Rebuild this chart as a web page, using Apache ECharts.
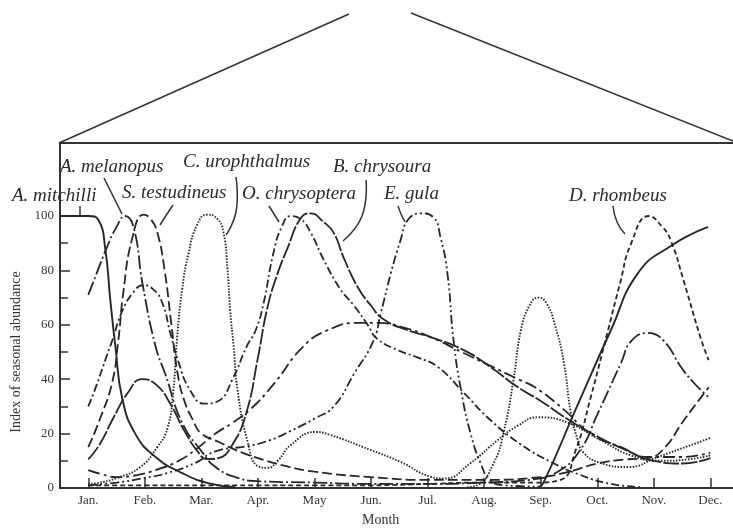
<!DOCTYPE html>
<html><head><meta charset="utf-8">
<script src="https://cdn.jsdelivr.net/npm/echarts@6/dist/echarts.min.js"></script>
<style>html,body{margin:0;padding:0;background:#fff}#c{width:733px;height:532px}</style>
</head><body><div id="c"></div>
<script>
const months = ['Jan.','Feb.','Mar.','Apr.','May','Jun.','Jul.','Aug.','Sep.','Oct.','Nov.','Dec.'];
const monthTicks = [1,2,3,4,5,6,7,8,9,10,11,12];
const yTicks = [0,20,40,60,80,100];

const mitchilli = [[0.5,100],[1.0,100],[1.18,98.5],[1.3,88],[1.39,69],[1.48,52],[1.6,33],[1.83,20],[2.19,11.4],[2.66,5.5],[3.12,1.8],[3.6,0.3],[6,null],[8.95,0],[9.05,2],[9.62,29],[10.24,58],[10.72,79],[11.3,89],[11.96,96]];
const melanopus = [[1,71],[1.15,79],[1.3,87],[1.5,96],[1.65,100],[1.8,96],[1.96,75],[2.19,52],[2.36,42],[2.66,24],[3.02,13],[3.25,7.7],[3.6,4],[4,2.5],[5,2],[6,1.5],[7,1.5],[8,2],[8.8,3],[9.3,6],[9.7,14],[10,27],[10.2,36],[10.42,46],[10.6,54],[10.89,57],[11.18,54],[11.48,44.5],[11.71,38.6],[11.96,33.5]];
const testudineus = [[1,15],[1.2,25],[1.42,38.6],[1.53,54],[1.62,72],[1.78,92],[1.98,100.5],[2.1,99],[2.22,94],[2.35,80],[2.47,60],[2.58,42],[2.7,32],[2.85,25],[3.0,20],[3.3,17],[3.6,14],[4,11],[4.5,8],[5,6],[6,4],[7,3],[8,3],[9,4],[9.5,6],[10,9],[10.5,10.5],[10.9,11],[11.2,15],[11.5,24],[11.75,31],[11.97,37]];
const urophthalmus = [[1,1.5],[1.16,1.8],[1.51,3.7],[1.92,7.7],[2.22,15],[2.4,22],[2.5,35],[2.57,55],[2.66,73],[2.77,86],[2.93,97],[3.1,100.5],[3.28,99],[3.39,94],[3.46,81],[3.51,65],[3.57,52],[3.64,36],[3.81,17.6],[4.0,8],[4.17,7.4],[4.35,10],[4.58,15.8],[5.02,20.6],[5.28,19.5],[5.99,14],[6.52,9.6],[7.05,4.2],[7.3,3.5],[7.76,9.2],[8.24,17.6],[8.6,23],[8.95,26],[9.48,24],[10.06,17.6],[10.59,12],[11.12,10],[11.6,10.5],[12,12]];
const chrysoptera = [[1,30],[1.15,38],[1.3,47],[1.42,54],[1.6,65],[1.8,72],[1.97,74.6],[2.15,73],[2.31,68],[2.45,57],[2.6,46],[2.8,36],[3.05,31],[3.3,32],[3.55,40],[3.8,52],[3.96,58],[4.1,68],[4.27,86],[4.42,96],[4.58,100],[4.75,99],[4.93,94],[5.16,84],[5.46,73],[5.7,67],[5.94,60],[6.1,55],[6.47,50.7],[6.82,48],[7.18,44.5],[7.64,35],[8.11,25],[8.65,16],[9.18,9.6],[9.7,4.8],[10.24,1.5],[10.8,0.3]];
const chrysoura = [[1,10.5],[1.2,16],[1.45,26],[1.7,35],[1.95,40],[2.2,38],[2.45,31],[2.7,21],[2.95,13],[3.1,10.6],[3.3,11],[3.55,16],[3.8,28],[4.0,48],[4.17,66.5],[4.35,79],[4.52,88],[4.75,99],[4.93,101],[5.15,98],[5.34,93.8],[5.51,85],[5.76,74],[6.0,67],[6.22,62],[6.65,58],[7.05,55.5],[7.64,50.7],[8.11,44.5],[8.6,37],[9.0,32],[9.5,25],[10,19],[10.5,14],[11,10],[11.5,9],[12,11]];
const gula = [[1,1],[1.5,2],[2,3.7],[2.4,5.5],[2.89,9.2],[3.25,13.5],[3.81,15.4],[4.2,17.5],[4.58,21],[5,25.5],[5.34,30],[5.7,42],[6.04,54],[6.17,64],[6.35,79],[6.52,91],[6.65,98.5],[6.88,101],[7.1,99.6],[7.23,92],[7.35,79],[7.46,54],[7.6,35],[7.76,20],[7.94,9],[8.1,3],[8.35,1],[9,0.5]];
const rhombeus = [[1,1],[2,1],[3,1],[4,1],[5,1],[6,1],[7,1.5],[8,2],[8.9,2],[9.35,3],[9.62,14],[9.88,33],[10.19,58],[10.4,75],[10.6,90],[10.91,100],[11.15,96],[11.3,91],[11.53,76],[11.83,55],[11.97,47]];
const unlabeledA = [[1,6.6],[1.25,5],[1.5,4],[1.8,4.5],[2.19,6.6],[2.6,10],[2.89,14],[3.25,20],[3.55,24],[3.87,29],[4.27,38],[4.8,52],[5.23,58],[5.76,60.7],[6.12,60.7],[6.58,59],[7.05,55.5],[7.6,50],[8.1,45],[8.6,40],[8.9,37],[9.4,29],[9.88,20],[10.42,15],[10.9,11.4],[11.48,11.4],[12,13]];
const unlabeledB = [[7.7,0.3],[7.88,1],[8.17,9.2],[8.35,21],[8.52,40],[8.65,58],[8.8,67],[8.95,70],[9.1,68],[9.25,60],[9.41,46],[9.53,28],[9.65,18],[9.76,12.9],[10.06,9.2],[10.54,7.7],[11.07,11.4],[12,18.4]];

const INK = '#262626';
function mk(name, data, type, width) {
  return {
    name: name, type: 'line', data: data, smooth: 0.5,
    showSymbol: false, clip: false, connectNulls: false, silent: true,
    lineStyle: { color: INK, width: width || 1.8, type: type }
  };
}

const serif = '"Liberation Serif", "DejaVu Serif", serif';
const labelFont = 'italic 19px ' + serif;
function lab(text, x, y) {
  return { type: 'text', left: x, top: y, style: { text: text, font: labelFont, fill: '#2a2a2a' } };
}
function lead(points) {
  return { type: 'polyline', shape: { points: points, smooth: 0.5 }, style: { stroke: '#333', lineWidth: 1.5, fill: null } };
}
function seg(x1, y1, x2, y2, w) {
  return { type: 'line', shape: { x1: x1, y1: y1, x2: x2, y2: y2 }, style: { stroke: '#333', lineWidth: w || 2 } };
}

const chart = echarts.init(document.getElementById('c'), null, { renderer: 'canvas' });
chart.setOption({
  animation: false,
  backgroundColor: '#fff',
  grid: { left: 60, right: 0, top: 216, bottom: 44 },
  xAxis: {
    type: 'value', min: 0.5, max: 12.4,
    axisLine: { lineStyle: { color: '#333', width: 2 } },
    axisTick: { customValues: monthTicks, inside: true, length: 10, lineStyle: { color: '#333', width: 1.5 } },
    axisLabel: { customValues: monthTicks, formatter: function (v) { return months[Math.round(v) - 1]; }, color: '#333', fontFamily: serif, fontSize: 13, margin: 6 },
    splitLine: { show: false }
  },
  yAxis: {
    type: 'value', min: 0, max: 100, interval: 20,
    name: 'Index of seasonal abundance', nameLocation: 'middle', nameGap: 36,
    nameTextStyle: { color: '#333', fontFamily: serif, fontSize: 14 },
    axisLine: { show: true, lineStyle: { color: '#333', width: 2 } },
    axisTick: { show: true, inside: true, length: 10, lineStyle: { color: '#333', width: 1.5 } },
    minorTick: { show: true, splitNumber: 2, length: 8, lineStyle: { color: '#333', width: 1.5 } },
    axisLabel: { color: '#333', fontFamily: serif, fontSize: 13, margin: 6 },
    splitLine: { show: false }
  },
  graphic: [
    seg(60, 143, 60, 217, 2),
    seg(59, 143, 733, 143, 2),
    seg(59, 143, 349, 14, 1.5),
    seg(411, 13, 733, 141, 1.5),
    { type: 'text', left: 362, top: 513, style: { text: 'Month', font: '14px ' + serif, fill: '#333' } },
    lab('A. mitchilli', 12, 186),
    lab('A. melanopus', 60, 157),
    lab('S. testudineus', 122, 183),
    lab('C. urophthalmus', 183, 152),
    lab('O. chrysoptera', 242, 184),
    lab('B. chrysoura', 333, 157),
    lab('E. gula', 384, 184),
    lab('D. rhombeus', 569, 186),
    lead([[80, 206], [80, 216]]),
    lead([[104, 178], [113, 196], [122, 214]]),
    lead([[173, 205], [167, 214], [160, 225]]),
    lead([[236, 177], [236, 212], [226, 235]]),
    lead([[269, 206], [274, 214], [279, 222]]),
    lead([[366, 180], [362, 216], [343, 241]]),
    lead([[398, 206], [401, 214], [405, 222]]),
    lead([[613, 206], [617, 222], [625, 234]])
  ],
  series: [
    mk('A. mitchilli', mitchilli, 'solid', 1.9),
    mk('A. melanopus', melanopus, [14, 3, 2, 3]),
    mk('S. testudineus', testudineus, [10, 4]),
    mk('C. urophthalmus', urophthalmus, [1.5, 1.5], 1.9),
    mk('O. chrysoptera', chrysoptera, [8, 3, 2, 3]),
    mk('B. chrysoura', chrysoura, [16, 2]),
    mk('E. gula', gula, [9, 3, 2, 3, 2, 3]),
    mk('D. rhombeus', rhombeus, [5, 3]),
    mk('unlabeled A', unlabeledA, [12, 4, 3, 4]),
    mk('unlabeled B', unlabeledB, [1.5, 1.5], 1.9)
  ]
});
</script>
</body></html>
